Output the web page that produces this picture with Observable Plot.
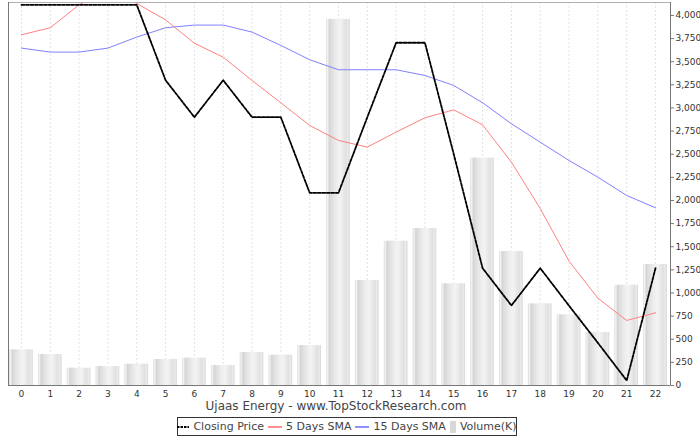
<!DOCTYPE html>
<html>
<head>
<meta charset="utf-8">
<script src="https://cdn.jsdelivr.net/npm/d3@7"></script>
<script src="https://cdn.jsdelivr.net/npm/@observablehq/plot@0.6"></script>
<style>
  html, body { margin: 0; padding: 0; background: #fff; }
  #wrap { position: relative; width: 700px; height: 437px; font-family: "DejaVu Sans", sans-serif; }
  #title { position: absolute; left: 0; top: 399px; width: 672px; text-align: center; font-size: 12px; color: #444; }
  #legend { position: absolute; left: 177px; top: 417px; width: 338px; height: 17px; border: 1px solid #333;
            display: flex; align-items: center; justify-content: center; font-size: 11px; color: #444; white-space: nowrap; }
  #legend .item { display: flex; align-items: center; margin: 0 2px; }
  #legend svg { margin-right: 4px; }
</style>
</head>
<body>
<div id="wrap">
  <div id="chart"></div>
  <div id="title">Ujaas Energy - www.TopStockResearch.com</div>
  <div id="legend"></div>
</div>
<script>
const days = [0,1,2,3,4,5,6,7,8,9,10,11,12,13,14,15,16,17,18,19,20,21,22];
const closingPrice = [4115,4115,4115,4115,4115,3300,2900,3300,2900,2900,2083,2083,2900,3705,3705,2500,1268,865,1268,862,461,54,1268];
const sma5 = [3791,3867,4115,4270,4130,3952,3700,3549,3297,3056,2811,2649,2577,2739,2894,2980,2818,2414,1913,1344,944,703,786];
const sma15 = [3647,3604,3604,3647,3766,3867,3896,3896,3820,3676,3521,3413,3413,3413,3351,3243,3056,2829,2630,2432,2252,2054,1921];
const volumeK = [386,335,187,205,230,281,296,216,357,328,432,3957,1135,1560,1697,1099,2458,1449,883,764,573,1084,1308];
const yTicks = [0,250,500,750,1000,1250,1500,1750,2000,2250,2500,2750,3000,3250,3500,3750,4000];
const seriesNames = ["Closing Price", "5 Days SMA", "15 Days SMA", "Volume(K)"];
const chartTitle = "Ujaas Energy - www.TopStockResearch.com";

const rows = days.map((d, i) => ({day: d, close: closingPrice[i], sma5: sma5[i], sma15: sma15[i], volume: volumeK[i]}));
const xDomain = [-0.45, 22.52];
const yDomain = [0, 4140];

const svg = Plot.plot({
  width: 700,
  height: 400,
  marginLeft: 8,
  marginRight: 30,
  marginTop: 2,
  marginBottom: 15,
  x: {type: "linear", domain: xDomain, axis: null},
  y: {domain: yDomain, axis: null},
  style: {fontFamily: "DejaVu Sans, sans-serif", fontSize: "9px", color: "#444", background: "#fff"},
  marks: [
    Plot.ruleX(days, {x: d => d, stroke: "#e2e2e2", strokeDasharray: "2,2"}),
    Plot.rectY(rows, {x1: d => d.day - 0.41, x2: d => d.day + 0.41, y1: 0, y2: "volume", fill: "url(#volGrad)"}),
    Plot.line(rows, {x: "day", y: "sma15", stroke: "#8080ff", strokeWidth: 1, clip: true}),
    Plot.line(rows, {x: "day", y: "sma5", stroke: "#ff8080", strokeWidth: 1, clip: true}),
    Plot.line(rows, {x: "day", y: "close", stroke: "#000", strokeWidth: 1.8, strokeDasharray: "3,1.5", clip: true}),
    Plot.frame({stroke: "#b0b0b0"}),
    Plot.ruleX([xDomain[0]], {stroke: "#777"}),
    Plot.ruleX([xDomain[1]], {stroke: "#777"}),
    Plot.ruleY([yDomain[0]], {stroke: "#777"}),
    Plot.axisX(days, {tickSize: 0, tickPadding: 5, tickFormat: d => String(d), label: null, fontSize: 9, fill: "#333"}),
    Plot.axisY(yTicks, {anchor: "right", tickSize: 3, tickPadding: 2, tickFormat: d3.format(","), label: null, stroke: "#777", fill: "#333"})
  ]
});

// horizontal gradient for volume bars (bar-painter look)
const defs = d3.select(svg).insert("defs", ":first-child");
const grad = defs.append("linearGradient").attr("id", "volGrad").attr("x1", "0").attr("x2", "1").attr("y1", "0").attr("y2", "0");
[[0, "#d9d9d9"], [0.06, "#f4f4f4"], [0.13, "#d4d4d4"], [0.22, "#dedede"], [0.45, "#eeeeee"], [0.6, "#f3f3f3"], [0.85, "#e0e0e0"], [0.92, "#ececec"], [1, "#d6d6d6"]]
  .forEach(([o, c]) => grad.append("stop").attr("offset", o).attr("stop-color", c));

document.getElementById("chart").appendChild(svg);
document.getElementById("title").textContent = chartTitle;

// legend
const swatches = [
  '<svg width="12" height="10"><line x1="0" y1="5" x2="12" y2="5" stroke="#000" stroke-width="2" stroke-dasharray="2.5,1"/></svg>',
  '<svg width="14" height="10"><line x1="0" y1="5" x2="14" y2="5" stroke="#ff9090" stroke-width="2"/></svg>',
  '<svg width="14" height="10"><line x1="0" y1="5" x2="14" y2="5" stroke="#9090ff" stroke-width="2"/></svg>',
  '<svg width="6" height="12"><rect x="0" y="0" width="6" height="12" fill="#d8d8d8"/></svg>'
];
const legend = document.getElementById("legend");
seriesNames.forEach((name, i) => {
  const item = document.createElement("span");
  item.className = "item";
  item.innerHTML = swatches[i] + "<span>" + name + "</span>";
  legend.appendChild(item);
});
</script>
</body>
</html>
